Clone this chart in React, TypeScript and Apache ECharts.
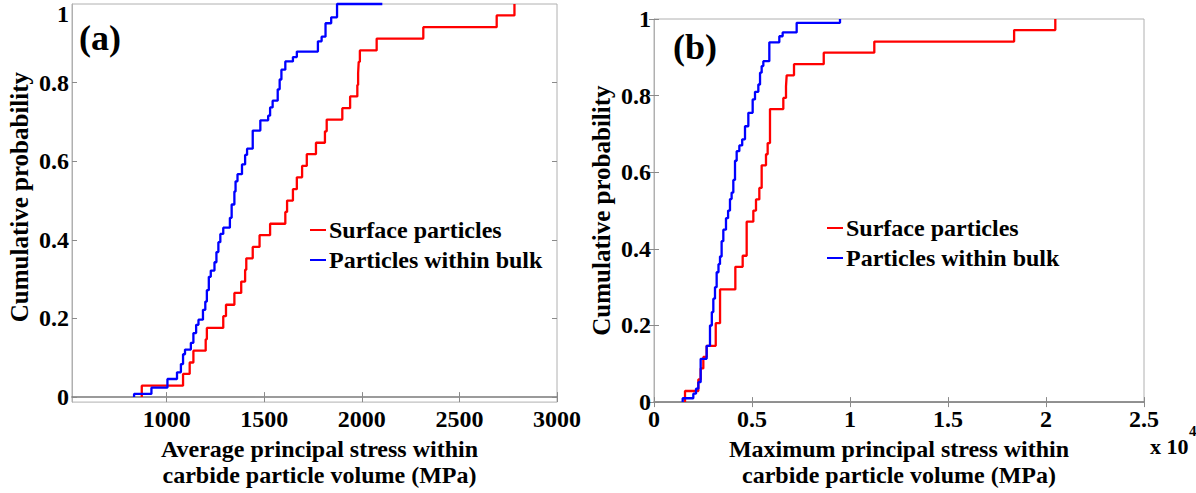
import React, { useEffect, useRef } from 'react';
import * as echarts from 'echarts';

// ---------- data ----------
const seriesNames = ['Surface particles', 'Particles within bulk'];

// (a) average principal stress (MPa) – empirical CDF steps
const aSurfaceX = [872.5, 872.5, 1084, 1118, 1137, 1200, 1206, 1290, 1304, 1347, 1382, 1402, 1408, 1441, 1476, 1530, 1608, 1617, 1647, 1667, 1694, 1718, 1765, 1811, 1820, 1900, 1940, 1977, 1981, 1984, 1990, 2076, 2315, 2691, 2782];
const aSurfaceY = [0, 0.029, 0.059, 0.088, 0.118, 0.147, 0.176, 0.206, 0.235, 0.265, 0.294, 0.324, 0.353, 0.382, 0.412, 0.441, 0.471, 0.5, 0.529, 0.559, 0.588, 0.618, 0.647, 0.676, 0.706, 0.735, 0.765, 0.794, 0.824, 0.853, 0.882, 0.912, 0.941, 0.971, 1.0];
const aBulkX = [833, 833, 922, 1004, 1053, 1073, 1084, 1094, 1124, 1137, 1151, 1163, 1186, 1198, 1206, 1216, 1226, 1245, 1255, 1265, 1275, 1290, 1324, 1333, 1347, 1353, 1363, 1386, 1402, 1412, 1441, 1480, 1520, 1530, 1543, 1569, 1579, 1588, 1608, 1647, 1667, 1775, 1794, 1814, 1843, 1873, 2105];
const aBulkY = [0, 0.008, 0.024, 0.046, 0.063, 0.084, 0.109, 0.121, 0.138, 0.163, 0.184, 0.197, 0.222, 0.243, 0.272, 0.306, 0.322, 0.343, 0.369, 0.394, 0.415, 0.431, 0.456, 0.49, 0.523, 0.549, 0.567, 0.592, 0.616, 0.632, 0.678, 0.704, 0.716, 0.737, 0.754, 0.783, 0.808, 0.833, 0.854, 0.865, 0.879, 0.905, 0.917, 0.951, 0.966, 1.0, 1.0];

// (b) maximum principal stress (MPa)
const bSurfaceX = [1582, 1582, 2262, 2381, 2517, 2687, 3150, 3370, 4150, 4524, 4728, 5068, 5204, 5374, 5493, 5714, 5799, 5918, 6598, 6735, 6769, 7143, 8660, 11240, 18373, 20475];
const bSurfaceY = [0, 0.029, 0.059, 0.088, 0.118, 0.147, 0.206, 0.294, 0.353, 0.382, 0.471, 0.5, 0.529, 0.559, 0.618, 0.647, 0.676, 0.765, 0.794, 0.824, 0.853, 0.882, 0.912, 0.941, 0.971, 1.0];
const bBulkX = [1463, 1463, 2006, 2143, 2262, 2381, 2687, 2857, 2950, 3027, 3112, 3197, 3290, 3367, 3450, 3537, 3673, 3780, 3877, 3960, 4047, 4133, 4218, 4354, 4500, 4643, 4813, 5034, 5153, 5323, 5410, 5493, 5578, 5884, 6394, 6564, 7279, 9490];
const bBulkY = [0, 0.010, 0.022, 0.035, 0.052, 0.113, 0.147, 0.20, 0.235, 0.27, 0.30, 0.339, 0.36, 0.38, 0.42, 0.45, 0.48, 0.50, 0.53, 0.547, 0.58, 0.63, 0.655, 0.67, 0.686, 0.72, 0.755, 0.79, 0.81, 0.829, 0.86, 0.877, 0.89, 0.939, 0.955, 0.965, 0.99, 1.0];

const aTicksX = [1000, 1500, 2000, 2500, 3000];
const probTicks = [0, 0.2, 0.4, 0.6, 0.8];

const aXTitle = 'Average principal stress within\ncarbide particle volume (MPa)';
const bXTitle = 'Maximum principal stress within\ncarbide particle volume (MPa)';
const yTitle = 'Cumulative probability';

// ---------- helpers ----------
const FONT = 'Liberation Serif, serif';
const zip = (xs: number[], ys: number[]) => xs.map((x, i) => [x, ys[i]]);
const RED = '#ff0000';
const BLUE = '#0000ff';
const tickStyle = { show: true, inside: true, length: 5, lineStyle: { color: '#8a8a8a', width: 1 } };
const labelStyle = { color: '#000', fontFamily: FONT, fontWeight: 'bold' as const, fontSize: 24 };
const fmtProb = (v: number) => String(+Number(v).toFixed(1));

export default function App() {
  const ref = useRef<HTMLDivElement>(null);
  useEffect(() => {
    if (!ref.current) return;
    const chart = echarts.init(ref.current, undefined, { renderer: 'svg' });
    const gridA = { left: 72, top: 4, width: 485, height: 399, show: true, borderColor: '#b0b0b0', borderWidth: 1, backgroundColor: '#fff' };
    const gridB = { left: 654, top: 19, width: 490, height: 385, show: true, borderColor: '#b0b0b0', borderWidth: 1, backgroundColor: '#fff' };

    const lineSeries = (name: string, data: number[][], color: string, xi: number, yi: number) => ({
      type: 'line', name, data, step: 'end', xAxisIndex: xi, yAxisIndex: yi,
      symbol: 'none', clip: false, lineStyle: { color, width: 2.3 }, itemStyle: { color },
    });

    const legendOf = (left: number, top: number) => ({
      left, top, orient: 'vertical', itemWidth: 16, itemHeight: 14, itemGap: 6,
      icon: 'path://M0,6 L16,6 L16,8 L0,8 Z',
      data: [
        { name: seriesNames[0], itemStyle: { color: RED } },
        { name: seriesNames[1], itemStyle: { color: BLUE } },
      ],
      textStyle: { ...labelStyle, lineHeight: 24, padding: [0, 0, 0, -2] },
      selectedMode: false,
    });

    const option: any = {
      animation: false,
      backgroundColor: '#fff',
      textStyle: { fontFamily: FONT },
      grid: [gridA, gridB],
      xAxis: [
        {
          type: 'value', gridIndex: 0, min: 515, max: 3000, position: 'bottom',
          axisLine: { show: true, lineStyle: { color: '#7a7a7a', width: 1.5 } },
          axisTick: { ...tickStyle, customValues: aTicksX },
          axisLabel: { ...labelStyle, margin: 5, customValues: aTicksX, formatter: (v: number) => String(v) },
          splitLine: { show: false },
          name: aXTitle, nameLocation: 'middle', nameGap: 31,
          nameTextStyle: { ...labelStyle, lineHeight: 26, padding: [0, 0, 0, 10] },
        },
        {
          type: 'value', gridIndex: 0, min: 515, max: 3000, position: 'top',
          axisLine: { show: false }, axisTick: { ...tickStyle, customValues: aTicksX },
          axisLabel: { show: false }, splitLine: { show: false },
        },
        {
          type: 'value', gridIndex: 1, min: 0, max: 25000, interval: 5000, position: 'bottom',
          axisLine: { show: true, lineStyle: { color: '#7a7a7a', width: 1.5 } },
          axisTick: tickStyle,
          axisLabel: { ...labelStyle, margin: 5, formatter: (v: number) => String(v / 10000) },
          splitLine: { show: false },
          name: bXTitle, nameLocation: 'middle', nameGap: 30,
          nameTextStyle: { ...labelStyle, lineHeight: 26 },
        },
        {
          type: 'value', gridIndex: 1, min: 0, max: 25000, interval: 5000, position: 'top',
          axisLine: { show: false }, axisTick: tickStyle,
          axisLabel: { show: false }, splitLine: { show: false },
        },
      ],
      yAxis: [
        {
          type: 'value', gridIndex: 0, min: -0.0127, max: 1, position: 'left',
          axisLine: { show: true, lineStyle: { color: '#b0b0b0', width: 1 } },
          axisTick: { ...tickStyle, customValues: probTicks },
          axisLabel: { ...labelStyle, margin: 3, customValues: probTicks, formatter: fmtProb },
          splitLine: { show: false },
          name: yTitle, nameLocation: 'middle', nameGap: 40, nameRotate: 90,
          nameTextStyle: { ...labelStyle, fontSize: 25, padding: [0, 0, 0, 12] },
        },
        {
          type: 'value', gridIndex: 0, min: -0.0127, max: 1, position: 'right',
          axisLine: { show: false }, axisTick: { ...tickStyle, customValues: probTicks },
          axisLabel: { show: false }, splitLine: { show: false },
        },
        {
          type: 'value', gridIndex: 1, min: 0, max: 1, interval: 0.2, position: 'left',
          axisLine: { show: true, lineStyle: { color: '#b0b0b0', width: 1 } },
          axisTick: tickStyle,
          axisLabel: { ...labelStyle, margin: 3, formatter: fmtProb },
          splitLine: { show: false },
          name: yTitle, nameLocation: 'middle', nameGap: 40, nameRotate: 90,
          nameTextStyle: { ...labelStyle, fontSize: 25 },
        },
        {
          type: 'value', gridIndex: 1, min: 0, max: 1, interval: 0.2, position: 'right',
          axisLine: { show: false }, axisTick: tickStyle,
          axisLabel: { show: false }, splitLine: { show: false },
        },
      ],
      legend: [legendOf(305, 213), legendOf(822, 211)],
      graphic: [
        { type: 'text', left: 79, top: 20, style: { text: '(a)', fill: '#000', fontFamily: FONT, fontWeight: 'bold', fontSize: 36 } },
        { type: 'text', left: 673, top: 29, style: { text: '(b)', fill: '#000', fontFamily: FONT, fontWeight: 'bold', fontSize: 36 } },
        { type: 'text', x: 69, y: 14, style: { text: '1', fill: '#000', fontFamily: FONT, fontWeight: 'bold', fontSize: 24, align: 'right', verticalAlign: 'middle' } },
        { type: 'text', x: 1150, y: 446, style: { text: 'x 10', fill: '#000', fontFamily: FONT, fontWeight: 'bold', fontSize: 22, verticalAlign: 'middle' } },
        { type: 'text', x: 1189, y: 431, style: { text: '4', fill: '#000', fontFamily: FONT, fontWeight: 'bold', fontSize: 15, verticalAlign: 'middle' } },
      ],
      series: [
        lineSeries(seriesNames[0], zip(aSurfaceX, aSurfaceY), RED, 0, 0),
        lineSeries(seriesNames[1], zip(aBulkX, aBulkY), BLUE, 0, 0),
        lineSeries(seriesNames[0], zip(bSurfaceX, bSurfaceY), RED, 2, 2),
        lineSeries(seriesNames[1], zip(bBulkX, bBulkY), BLUE, 2, 2),
      ],
    };
    chart.setOption(option);
    return () => chart.dispose();
  }, []);
  return <div ref={ref} style={{ position: 'absolute', left: 0, top: 0, width: 1196, height: 493, background: '#fff' }} />;
}
